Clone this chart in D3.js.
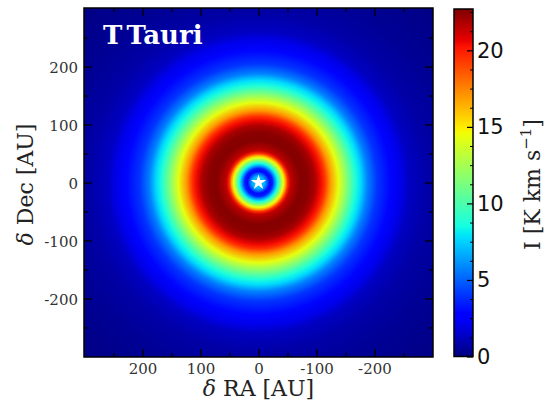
<!DOCTYPE html>
<html>
<head>
<meta charset="utf-8">
<script src="https://cdn.jsdelivr.net/npm/d3@7"></script>
<style>
    body { margin: 0; background: #fff; }
    svg { display: block; }
</style>
</head>
<body>
<div id="chart"></div>
<script>
// radial profile of the integrated intensity
const radiusAU = [0, 10, 15, 19, 24, 29, 33, 38, 43, 47, 50, 55, 60, 72, 86, 98, 107, 114,
    124, 138, 150, 167, 176, 188, 205, 228, 245, 260, 293, 345, 430];
const intensity = [6.5, 7, 5, 3, 3.5, 6.5, 8.5, 11.5, 14.5, 17, 19.5, 21.3, 21.8, 22.6, 22.5,
    21.8, 20.5, 19.5, 17, 14.3, 12, 8.8, 7.8, 5.7, 4.0, 2.9, 2.1, 1.3, 0.75, 0.4, 0.1];

const axisTicks = [-200, -100, 0, 100, 200];
const axisMinorTicks = [-250, -150, -50, 50, 150, 250];
const colorbarTicks = [0, 5, 10, 15, 20];
const colorbarMax = 22.7;
const title = 'T Tauri';

const width = 546;
const height = 407;
const plot = { left: 84, right: 433, top: 8, bottom: 357 };
const cbar = { left: 454, right: 473, top: 9, bottom: 356.5 };
const extent = 301;

// matplotlib 'jet'
const jetR = d3.scaleLinear().domain([0, 0.35, 0.66, 0.89, 1]).range([0, 0, 1, 1, 0.5]).clamp(true);
const jetG = d3.scaleLinear().domain([0, 0.125, 0.375, 0.64, 0.91, 1]).range([0, 0, 1, 1, 0, 0]).clamp(true);
const jetB = d3.scaleLinear().domain([0, 0.11, 0.34, 0.65, 1]).range([0.5, 1, 1, 0, 0]).clamp(true);
const jetBreaks = [0, 0.11, 0.125, 0.34, 0.35, 0.375, 0.64, 0.65, 0.66, 0.89, 0.91, 1];
const jet = (t) => d3.rgb(jetR(t) * 255, jetG(t) * 255, jetB(t) * 255).formatHex();

const x = d3.scaleLinear().domain([extent, -extent]).range([plot.left, plot.right]);
const y = d3.scaleLinear().domain([-extent, extent]).range([plot.bottom, plot.top]);
const r = d3.scaleLinear().domain([0, extent]).range([0, (plot.right - plot.left) / 2]);
const c = d3.scaleLinear().domain([0, colorbarMax]).range([0, 1]);
const cy = d3.scaleLinear().domain([0, colorbarMax]).range([cbar.bottom, cbar.top]);

const svg = d3.select('#chart').append('svg')
    .attr('width', width)
    .attr('height', height);

const defs = svg.append('defs');
defs.append('clipPath').attr('id', 'plot-clip')
    .append('rect')
    .attr('x', plot.left).attr('y', plot.top)
    .attr('width', plot.right - plot.left).attr('height', plot.bottom - plot.top);

const rMax = d3.max(radiusAU);
const disk = defs.append('radialGradient')
    .attr('id', 'disk')
    .attr('gradientUnits', 'userSpaceOnUse')
    .attr('cx', x(0)).attr('cy', y(0))
    .attr('r', r(rMax));
disk.selectAll('stop')
    .data(radiusAU)
    .enter()
    .append('stop')
    .attr('offset', (d) => d / rMax)
    .attr('stop-color', (d, i) => jet(c(intensity[i])));

const cbGrad = defs.append('linearGradient')
    .attr('id', 'cbar')
    .attr('x1', 0).attr('y1', 1).attr('x2', 0).attr('y2', 0);
cbGrad.selectAll('stop')
    .data(jetBreaks)
    .enter()
    .append('stop')
    .attr('offset', (d) => d)
    .attr('stop-color', (d) => jet(d));

// image
const img = svg.append('g').attr('clip-path', 'url(#plot-clip)');
img.append('rect')
    .attr('x', plot.left).attr('y', plot.top)
    .attr('width', plot.right - plot.left).attr('height', plot.bottom - plot.top)
    .attr('fill', jet(c(intensity[intensity.length - 1])));
img.append('circle')
    .attr('cx', x(0)).attr('cy', y(0))
    .attr('r', r(rMax))
    .attr('fill', 'url(#disk)');

img.append('path')
    .attr('d', d3.symbol(d3.symbolStar, 72))
    .attr('transform', `translate(${x(0)},${y(0)})`)
    .attr('fill', '#fff');

svg.append('text')
    .attr('x', 103).attr('y', 44)
    .attr('fill', '#fff')
    .attr('font-family', 'DejaVu Serif')
    .attr('font-weight', 'bold')
    .attr('font-size', 26)
    .attr('word-spacing', -5)
    .text(title);

// axes, ticks inward on all four sides
function drawAxis(axis, transform, values, size, labels, padding) {
    const g = svg.append('g')
        .attr('transform', transform)
        .call(axis.tickValues(values)
            .tickSizeInner(-size)
            .tickSizeOuter(0)
            .tickPadding(padding || 0)
            .tickFormat(labels ? (d) => String(d) : () => ''));
    g.select('.domain').remove();
    g.selectAll('.tick line').attr('stroke', '#000').attr('stroke-width', 1.3);
    g.attr('font-family', 'DejaVu Serif').attr('font-size', 15);
    g.selectAll('.tick text').attr('fill', '#333');
    return g;
}

drawAxis(d3.axisBottom(x), `translate(0,${plot.bottom})`, axisTicks, 8, true, 6);
drawAxis(d3.axisBottom(x), `translate(0,${plot.bottom})`, axisMinorTicks, 4, false);
drawAxis(d3.axisTop(x), `translate(0,${plot.top})`, axisTicks, 8, false);
drawAxis(d3.axisTop(x), `translate(0,${plot.top})`, axisMinorTicks, 4, false);
const yAxis = drawAxis(d3.axisLeft(y), `translate(${plot.left},0)`, axisTicks, 8, true, 6);
yAxis.selectAll('.tick text').attr('dy', '0.4em');
drawAxis(d3.axisLeft(y), `translate(${plot.left},0)`, axisMinorTicks, 4, false);
drawAxis(d3.axisRight(y), `translate(${plot.right},0)`, axisTicks, 8, false);
drawAxis(d3.axisRight(y), `translate(${plot.right},0)`, axisMinorTicks, 4, false);

svg.append('rect')
    .attr('x', plot.left).attr('y', plot.top)
    .attr('width', plot.right - plot.left).attr('height', plot.bottom - plot.top)
    .attr('fill', 'none')
    .attr('stroke', '#000')
    .attr('stroke-width', 1.5);

const xLabel = svg.append('text')
    .attr('x', x(0)).attr('y', 396)
    .attr('text-anchor', 'middle')
    .attr('font-family', 'DejaVu Serif')
    .attr('font-size', 22)
    .attr('fill', '#222');
xLabel.append('tspan').attr('font-style', 'italic').text('δ');
xLabel.append('tspan').text(' RA [AU]');

const yLabel = svg.append('text')
    .attr('transform', `translate(33,${y(0) + 2}) rotate(-90)`)
    .attr('text-anchor', 'middle')
    .attr('font-family', 'DejaVu Serif')
    .attr('font-size', 22)
    .attr('fill', '#222');
yLabel.append('tspan').attr('font-style', 'italic').text('δ');
yLabel.append('tspan').text(' Dec [AU]');

// colorbar
svg.append('rect')
    .attr('x', cbar.left).attr('y', cbar.top)
    .attr('width', cbar.right - cbar.left).attr('height', cbar.bottom - cbar.top)
    .attr('fill', 'url(#cbar)')
    .attr('stroke', '#000')
    .attr('stroke-width', 1.5);

const cbAxis = svg.append('g')
    .attr('transform', `translate(${cbar.right},0)`)
    .call(d3.axisRight(cy).tickValues(colorbarTicks).tickSizeInner(-6).tickSizeOuter(0).tickPadding(4));
cbAxis.select('.domain').remove();
cbAxis.selectAll('.tick line').attr('stroke', '#000').attr('stroke-width', 1.2);
cbAxis.attr('font-family', 'DejaVu Sans').attr('font-size', 21);
cbAxis.selectAll('.tick text').attr('fill', '#111');

const cbMinor = d3.range(0, colorbarMax, 1.25).filter((d) => d % 5 !== 0);
const cbMinorAxis = svg.append('g')
    .attr('transform', `translate(${cbar.right},0)`)
    .call(d3.axisRight(cy).tickValues(cbMinor).tickSizeInner(-3).tickSizeOuter(0).tickFormat(() => ''));
cbMinorAxis.select('.domain').remove();
cbMinorAxis.selectAll('.tick line').attr('stroke', '#000').attr('stroke-width', 1);

const cLabel = svg.append('text')
    .attr('transform', `translate(540,${y(0) + 2}) rotate(-90)`)
    .attr('text-anchor', 'middle')
    .attr('font-family', 'DejaVu Serif')
    .attr('font-size', 22)
    .attr('fill', '#222');
cLabel.append('tspan').text('I [K km s');
cLabel.append('tspan').attr('font-size', 15).attr('dy', -9).text('−1');
cLabel.append('tspan').attr('dy', 9).text(']');
</script>
</body>
</html>
